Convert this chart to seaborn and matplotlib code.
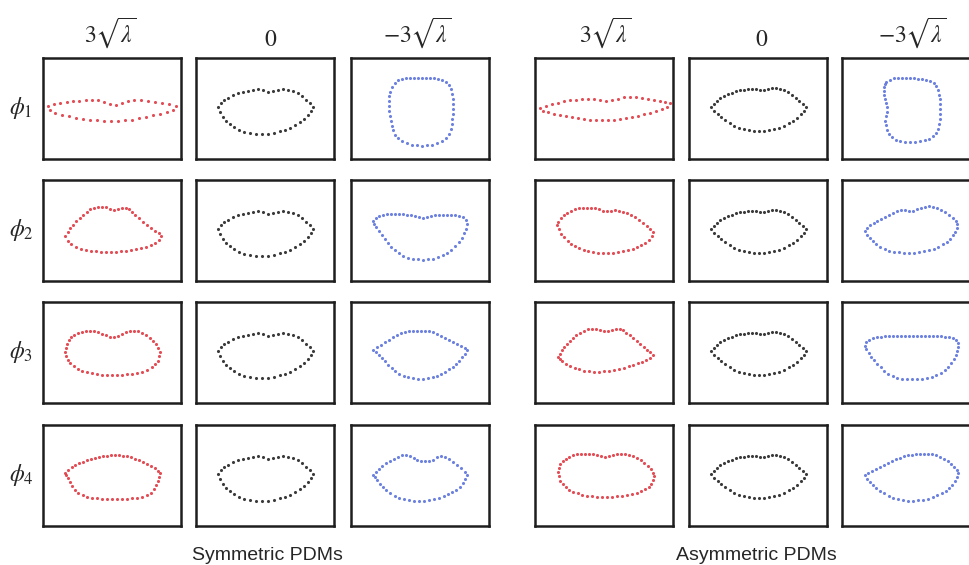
import matplotlib
matplotlib.use('Agg')
import matplotlib.pyplot as plt
import seaborn as sns

# Lip outlines from the point distribution models (PDMs).
# Dots are in panel pixel units: x from left edge (0..138), y from top edge (0..101).

# ---------- symmetric PDMs ----------
sym_mean = [(22, 49), (25, 45), (28, 42), (32, 39.5), (37, 37), (42, 35), (47, 33.5), (52, 32.5), (57, 31.5),
            (62, 31), (67, 32), (72, 33.5), (77, 33), (82, 31.5), (87, 31), (92, 31.5), (97, 32.5), (102, 35),
            (106, 38), (110, 41.5), (114, 45), (117, 49),
            (115, 53), (112, 57), (108, 60.5), (104, 64), (99, 67), (94, 69.5), (89, 71.5), (84, 73), (78, 74.5),
            (72, 75.5), (66, 75.5), (60, 75.5), (54, 75), (48, 73.5), (43, 71.5), (38, 69), (34, 66), (30, 62.5),
            (27, 59), (24, 54)]

sym_phi1_pos = [(5, 48), (11, 46), (17, 44.5), (24, 43.5), (30, 43), (36, 42.5), (43, 42), (49, 41.5), (55, 42),
                (61, 43.5), (67, 45.5), (73, 46.5), (79, 45), (85, 43), (91, 42), (98, 42), (105, 42.5), (112, 43.5),
                (119, 44.5), (126, 46), (133, 48),
                (130, 52), (124, 54), (117, 55.5), (110, 57), (103, 59), (96, 60), (89, 61.5), (82, 62), (75, 62.5),
                (68, 63), (61, 62.5), (54, 62), (47, 61.5), (40, 60.5), (33, 59.5), (26, 58), (19, 56.5), (12, 55),
                (7, 52)]

sym_phi1_neg = [(47, 22), (51, 20.5), (55, 20), (59, 19.5), (63, 19.5), (67, 19.5), (71, 19.5), (75, 19.5), (79, 19.5),
                (83, 20), (87, 20.5), (91, 21.5), (95, 23.5), (98, 27), (100, 31), (101, 36), (101.5, 41),
                (101.5, 46), (101.5, 51), (101.5, 56), (101, 61), (100.5, 66), (99.5, 71), (98, 76), (95, 80),
                (91, 83), (86, 85), (81, 86.5), (76, 87), (71, 87.5), (66, 87), (61, 86.5), (56, 85), (51, 83),
                (47, 80), (44, 76.5), (42, 72), (40.5, 67.5), (39.5, 63), (38.5, 58), (38, 53), (37.5, 48),
                (37.5, 43), (38, 38), (39, 33.5), (41, 29), (44, 25)]

sym_phi2_pos = [(22, 55.5), (24.5, 51.5), (27, 48), (30, 44.5), (33, 41), (36.5, 38), (40, 34.5), (43.5, 31.5),
                (47, 29), (51, 27.5), (55, 26.5), (59, 26.5), (63, 27), (67, 28.5), (71, 30), (75, 29), (79, 27.5),
                (83, 27.5), (86, 29), (89, 32), (92, 35), (96, 38), (100, 41.5), (104, 44.5), (108, 47.5),
                (112, 50.5), (115.5, 53), (117.5, 56),
                (116, 60), (112, 62.5), (108, 64.5), (103, 66.5), (98, 68), (93, 69), (88, 70), (83, 70.5), (78, 71),
                (73, 71.5), (68, 71.5), (63, 71.5), (58, 71.5), (53, 71), (48, 70.5), (43, 69.5), (38, 68.5),
                (33, 66.5), (28, 64), (24.5, 60.5)]

sym_phi2_neg = [(22, 40.5), (24.5, 37.5), (28, 35.5), (32, 34.5), (36, 34), (40, 34), (44, 34), (48, 34), (52, 34),
                (56, 34.5), (60, 35), (64, 36), (68, 37), (72, 37.5), (76, 36.5), (80, 35.5), (84, 35), (88, 34.5),
                (92, 34.5), (96, 34.5), (100, 34.5), (104, 35), (108, 35.5), (112, 37), (115, 39.5),
                (116, 44), (115, 48.5), (113, 53), (110.5, 57.5), (107.5, 62), (104, 66), (100, 69.5), (96, 72.5),
                (91.5, 75), (87, 77), (82, 78.5), (77, 79), (72, 79.5), (67, 79), (62, 78.5), (57, 77.5), (52, 75.5),
                (47.5, 73), (43.5, 70), (40, 66.5), (37, 62.5), (34, 58.5), (31, 54.5), (28, 50.5), (25, 46.5),
                (23, 43.5)]

sym_phi3_pos = [(22, 50), (22.5, 46), (23.5, 42), (25.5, 38), (28, 35), (31, 32.5), (35, 30.5), (39, 29.5),
                (43, 28.5), (47, 28.5), (51, 29), (55, 30), (59, 31.5), (63, 33), (67, 34.5), (71, 35), (75, 34),
                (79, 32), (83, 30), (87, 29), (91, 28.5), (95, 29), (99, 30.5), (103, 33), (106.5, 35.5),
                (110, 38.5), (113, 42), (115, 46), (116.5, 50),
                (116, 54), (114.5, 58.5), (112, 62), (108.5, 65), (104, 67.5), (99, 69.5), (94, 70.5), (89, 71.5),
                (84, 72), (79, 72.5), (74, 73), (69, 73), (64, 73), (59, 72.5), (54, 72), (49, 71), (44, 70),
                (39, 68.5), (34.5, 66.5), (30.5, 64), (27, 61), (24.5, 57.5), (23, 54)]

sym_phi3_neg = [(22, 47.5), (26, 45), (30, 42.5), (34, 40), (38, 37.5), (42, 35), (46, 32.5), (50, 30.5),
                (54, 29.5), (58, 29), (62, 28.5), (66, 28.5), (70, 28.5), (74, 28.5), (78, 29), (82, 30), (86, 31.5),
                (90, 33.5), (94, 35.5), (98, 37.5), (102, 39.5), (106, 41.5), (110, 43.5), (114, 46), (116, 48),
                (113.5, 51.5), (111, 55), (108, 58.5), (105, 61.5), (101.5, 64.5), (98, 67), (94, 69.5), (90, 71.5),
                (86, 73.5), (81.5, 75), (77, 76), (72, 76.5), (67, 76.5), (62, 76), (57, 75), (52.5, 73.5),
                (48, 71.5), (44, 69), (40.5, 66), (37, 62.5), (34, 59), (31, 55.5), (28, 52.5), (25, 50)]

sym_phi4_pos = [(22, 47.5), (25, 44.5), (28.5, 42), (32, 40), (36, 38), (40, 36.5), (44, 35), (48, 34), (52, 33),
                (56, 32), (60, 31), (64, 30.5), (68, 30), (72, 30), (76, 30), (80, 30.5), (84, 31), (88, 32),
                (92, 33.5), (96, 35), (100, 37), (104, 39), (108, 41), (111.5, 43), (114.5, 45.5), (116.5, 48),
                (116, 52), (114.5, 56), (113, 60), (111, 64), (108, 67.5), (104, 70), (99, 71.5), (94, 72.5),
                (89, 73), (84, 73.5), (79, 73.5), (74, 74), (69, 74), (64, 74), (59, 73.5), (54, 73), (49, 72.5),
                (44, 71.5), (39.5, 70), (35, 68), (31.5, 65), (29, 61), (27, 57), (25, 53), (23, 50)]

sym_phi4_neg = [(22, 49.5), (24.5, 46.5), (27.5, 43.5), (31, 40.5), (35, 38), (39, 35.5), (43, 33.5), (47, 31.5),
                (51, 30), (55, 29.5), (59, 30.5), (62.5, 32.5), (66, 34.5), (70, 36), (74, 36), (78, 36),
                (82, 34.5), (86, 32), (90, 30.5), (94, 31.5), (98, 33.5), (102, 36.5), (106, 39.5), (110, 43),
                (113.5, 46.5), (116, 50),
                (114, 54), (111.5, 58), (108.5, 61.5), (105, 64.5), (101, 67), (97, 69), (92.5, 71), (88, 72.5),
                (83, 74), (78, 75), (73, 75.5), (68, 76), (63, 75.5), (58, 75), (53, 74), (48, 72.5), (43.5, 70.5),
                (39, 68), (35, 65), (31.5, 62), (28.5, 58.5), (26, 55), (24, 52)]

# ---------- asymmetric PDMs ----------
asym_mean = [(22, 49), (24.5, 45.5), (27.5, 42.5), (31, 40), (35, 38), (39, 36), (43, 34.5), (47, 33), (51, 32),
             (55, 31.5), (59, 31), (63, 30.5), (67, 31), (71, 32), (75, 31.5), (79, 30.5), (83, 29.5), (87, 29.5),
             (91, 30.5), (95, 32), (99, 34), (103, 36.5), (107, 39.5), (110.5, 42.5), (114, 45.5), (117, 49),
             (115, 52.5), (112, 56), (108.5, 59.5), (104.5, 62.5), (100, 65), (95, 67.5), (90, 69.5), (85, 71),
             (80, 72), (75, 72.5), (70, 72.5), (65, 72.5), (60, 72), (55, 71), (50, 69.5), (45, 67.5), (40.5, 65),
             (36, 62), (32, 59), (28.5, 56), (25, 52.5)]

asym_phi1_pos = [(5, 50), (11, 48), (17, 46), (23, 44.5), (29, 43), (35, 42), (41, 41.5), (47, 41), (53, 40.5),
                 (59, 41), (65, 42), (71, 43), (77, 42), (83, 40.5), (89, 39), (95, 38.5), (101, 39), (107, 39.5),
                 (113, 40.5), (119, 41.5), (125, 42.5), (130, 43.5), (135, 45),
                 (132, 48.5), (127, 51), (121, 53), (115, 54.5), (109, 56), (103, 57.5), (97, 59), (91, 60),
                 (85, 61), (79, 61.5), (73, 62), (67, 62), (61, 62), (55, 61.5), (49, 61), (43, 60), (37, 59),
                 (31, 58), (25, 57), (19, 55.5), (13, 54), (8, 52.5)]

asym_phi1_neg = [(44, 24), (48, 21.5), (52, 20), (56, 19.5), (60, 19.5), (64, 19.5), (68, 19.5), (72, 20),
                 (76, 20.5), (80, 21), (84, 21.5), (88, 22.5), (91.5, 24.5), (94, 28), (96, 32), (97, 36.5),
                 (97.5, 41), (98, 46), (98, 51), (98, 56), (97.5, 61), (97, 66), (96, 70.5), (94, 74.5), (91, 78),
                 (87, 80.5), (82.5, 82), (78, 83), (73, 83.5), (68, 84), (63, 84), (58, 83), (53.5, 81.5),
                 (49.5, 79), (46.5, 75.5), (44.5, 71.5), (43.5, 67), (43, 62.5), (43.5, 58), (44.5, 53.5), (45, 49),
                 (44, 45), (42.5, 41), (41.5, 37), (41.5, 33), (42, 29), (43, 26)]

asym_phi2_pos = [(21.5, 45), (23, 41.5), (25.5, 38), (28.5, 35), (32, 32.5), (36, 30.5), (40, 29), (44, 28),
                 (48, 27.5), (52, 27.5), (56, 27.5), (60, 28), (64, 29), (68, 30.5), (72, 31), (76, 30.5), (80, 30),
                 (84, 30.5), (88, 31.5), (92, 33), (96, 35), (100, 37), (104, 39.5), (108, 42.5), (111.5, 45.5),
                 (115, 48.5), (118, 52),
                 (116.5, 56), (113.5, 59.5), (110, 62.5), (106, 65), (102, 67), (97.5, 68.5), (93, 70), (88, 71),
                 (83, 72), (78, 72.5), (73, 72.5), (68, 72.5), (63, 72.5), (58, 72), (53, 71), (48.5, 69.5),
                 (44, 68), (40, 66), (36, 63.5), (32.5, 60.5), (29, 57), (26, 53.5), (23.5, 49)]

asym_phi2_neg = [(22.5, 51), (25, 48), (28, 45), (31.5, 42.5), (35, 40.5), (39, 38.5), (43, 36.5), (47, 34.5),
                 (51, 32.5), (55, 31), (59, 30), (63, 30), (67, 30.5), (71, 30.5), (75, 29), (79, 27.5), (83, 26.5),
                 (87, 26), (91, 26.5), (95, 27.5), (99, 29.5), (103, 32), (107, 34.5), (110.5, 37.5),
                 (113.5, 40.5), (115, 43.5),
                 (114.5, 47.5), (113, 51.5), (111, 55), (108, 58.5), (104.5, 61.5), (100.5, 64), (96, 66.5),
                 (91.5, 68.5), (87, 70), (82, 71), (77, 72), (72, 72.5), (67, 72.5), (62, 72.5), (57, 72),
                 (52, 71.5), (47, 70.5), (42.5, 68.5), (38, 66.5), (34, 64), (30.5, 61), (27.5, 58), (25, 54.5)]

asym_phi3_pos = [(23, 55), (24.5, 51.5), (26.5, 48), (29, 45), (32, 42), (35, 39), (38, 36), (41, 33),
                 (44.5, 30.5), (48.5, 28.5), (52.5, 27), (56.5, 26.5), (60.5, 27), (64.5, 28), (68.5, 29),
                 (72.5, 29), (76.5, 27.5), (80.5, 26.5), (84.5, 26.5), (88, 28), (91, 30.5), (94.5, 33), (98, 36),
                 (101.5, 39), (105, 42), (108.5, 45), (112, 47.5), (115, 50), (117.5, 52.5),
                 (115, 56), (111, 58), (107, 59.5), (102.5, 61), (98, 62.5), (93.5, 64), (89, 65.5), (84, 67),
                 (79, 68), (74, 68.5), (69, 69), (64, 69.5), (59, 69.5), (54, 69), (49, 68.5), (44, 67),
                 (39.5, 65.5), (35, 63.5), (31, 61.5), (27, 59), (24.5, 57)]

asym_phi3_neg = [(22.5, 43.5), (24, 40), (27, 37.5), (31, 36), (35, 35), (39, 34.5), (43, 34), (47, 34),
                 (51, 33.5), (55, 33.5), (59, 33.5), (63, 33.5), (67, 33.5), (71, 33.5), (75, 33.5), (79, 33.5),
                 (83, 33.5), (87, 33.5), (91, 33.5), (95, 33.5), (99, 34), (103, 34.5), (107, 35), (111, 36),
                 (114, 38), (116, 41),
                 (116, 45), (115, 49), (113.5, 53), (111.5, 57), (109, 61), (106, 64.5), (102.5, 67.5),
                 (98.5, 70.5), (94, 73), (89.5, 75), (85, 76), (80, 76.5), (75, 77), (70, 77), (65, 77),
                 (60, 76.5), (55, 75.5), (50.5, 74), (46, 71.5), (42, 68.5), (38.5, 65), (35, 61.5), (32, 58),
                 (29, 54.5), (26.5, 51), (24, 47)]

asym_phi4_pos = [(23, 47), (23.5, 43), (25, 39), (27.5, 36), (30.5, 33.5), (34, 31.5), (38, 30), (42, 29),
                 (46, 28.5), (50, 28.5), (54, 28.5), (58, 29), (62, 29.5), (66, 30.5), (70, 31.5), (74, 31),
                 (78, 30), (82, 29), (86, 28.5), (90, 28.5), (94, 29.5), (98, 31), (102, 33), (105.5, 35),
                 (109, 37.5), (112.5, 40.5), (115.5, 44), (117.5, 47.5), (118.5, 51),
                 (118, 55), (116, 58.5), (113.5, 61.5), (110, 64), (106, 66), (101.5, 67.5), (97, 69), (92, 70),
                 (87, 70.5), (82, 71), (77, 71.5), (72, 71.5), (67, 71.5), (62, 71.5), (57, 71), (52, 70.5),
                 (47, 69.5), (42.5, 68), (38, 66.5), (34, 64.5), (30.5, 62), (27.5, 59), (25, 55.5), (23.5, 51)]

asym_phi4_neg = [(22.5, 50), (26, 48), (30, 46), (34, 44), (38, 42), (42, 40), (46, 38), (50, 36), (54, 34),
                 (58, 32.5), (62, 31), (66, 30), (70, 29.5), (74, 29), (78, 28.5), (82, 28.5), (86, 28.5), (90, 29),
                 (94, 30), (98, 31.5), (102, 33.5), (105.5, 36), (109, 38.5), (112, 41.5), (114.5, 44.5), (116, 48),
                 (114.5, 52), (112.5, 56), (110, 59.5), (107, 62.5), (103.5, 65.5), (99.5, 68), (95, 70),
                 (90.5, 72), (86, 73.5), (81, 74.5), (76, 75), (71, 75.5), (66, 75.5), (61, 75), (56, 74),
                 (51, 72.5), (46.5, 70.5), (42, 68), (38, 65.5), (34, 62.5), (30.5, 59.5), (27.5, 56.5), (25, 53.5)]

col_labels = [r'$3\sqrt{\lambda}$', r'$0$', r'$-3\sqrt{\lambda}$']
row_labels = [r'$\phi_1$', r'$\phi_2$', r'$\phi_3$', r'$\phi_4$']
group_labels = ['Symmetric PDMs', 'Asymmetric PDMs']

sym_grid = [[sym_phi1_pos, sym_mean, sym_phi1_neg],
            [sym_phi2_pos, sym_mean, sym_phi2_neg],
            [sym_phi3_pos, sym_mean, sym_phi3_neg],
            [sym_phi4_pos, sym_mean, sym_phi4_neg]]
asym_grid = [[asym_phi1_pos, asym_mean, asym_phi1_neg],
             [asym_phi2_pos, asym_mean, asym_phi2_neg],
             [asym_phi3_pos, asym_mean, asym_phi3_neg],
             [asym_phi4_pos, asym_mean, asym_phi4_neg]]

## style
sns.set_theme(style='white')
plt.rcParams['font.family'] = ['Liberation Serif', 'DejaVu Serif']
plt.rcParams['mathtext.fontset'] = 'stix'

W, H = 969, 565
fig = plt.figure(figsize=(W / 100, H / 100), dpi=100)
fig.patch.set_facecolor('white')

dot_colors = ['#e03a42', '#262626', '#5d74dc']
panel_w, panel_h = 138, 101
row_tops = [58, 180, 302, 425]
group_lefts = [[43, 196, 351], [535, 689, 842]]


def px_box(left, top):
    return [left / W, 1 - (top + panel_h) / H, panel_w / W, panel_h / H]


for grid, lefts in zip([sym_grid, asym_grid], group_lefts):
    for r, row in enumerate(grid):
        for c, pts in enumerate(row):
            ax = fig.add_axes(px_box(lefts[c], row_tops[r]))
            xs, ys = zip(*pts)
            sns.scatterplot(x=list(xs), y=list(ys), color=dot_colors[c], s=5, linewidth=0,
                            alpha=0.9, legend=False, ax=ax)
            ax.set_xlim(0, panel_w)
            ax.set_ylim(panel_h, 0)
            ax.set_xticks([])
            ax.set_yticks([])
            ax.set_xlabel('')
            ax.set_ylabel('')
            for sp in ax.spines.values():
                sp.set_visible(True)
                sp.set_color('#1e1e1e')
                sp.set_linewidth(1.8)

# column headers
header_x = [[110, 271, 417], [605, 762, 912]]
header_y = [33, 40, 33]
for xs_ in header_x:
    for c, lab in enumerate(col_labels):
        fig.text(xs_[c] / W, 1 - header_y[c] / H, lab, fontsize=17, ha='center', va='center')

# row labels
for r, lab in enumerate(row_labels):
    fig.text(21 / W, 1 - (row_tops[r] + 50) / H, lab, fontsize=17, ha='center', va='center')

# group labels
for x, lab in zip([267, 756], group_labels):
    fig.text(x / W, 1 - 560 / H, lab, fontsize=14, ha='center', va='baseline',
             family=['Liberation Sans', 'DejaVu Sans'])

fig.savefig('out.png', dpi=100)
